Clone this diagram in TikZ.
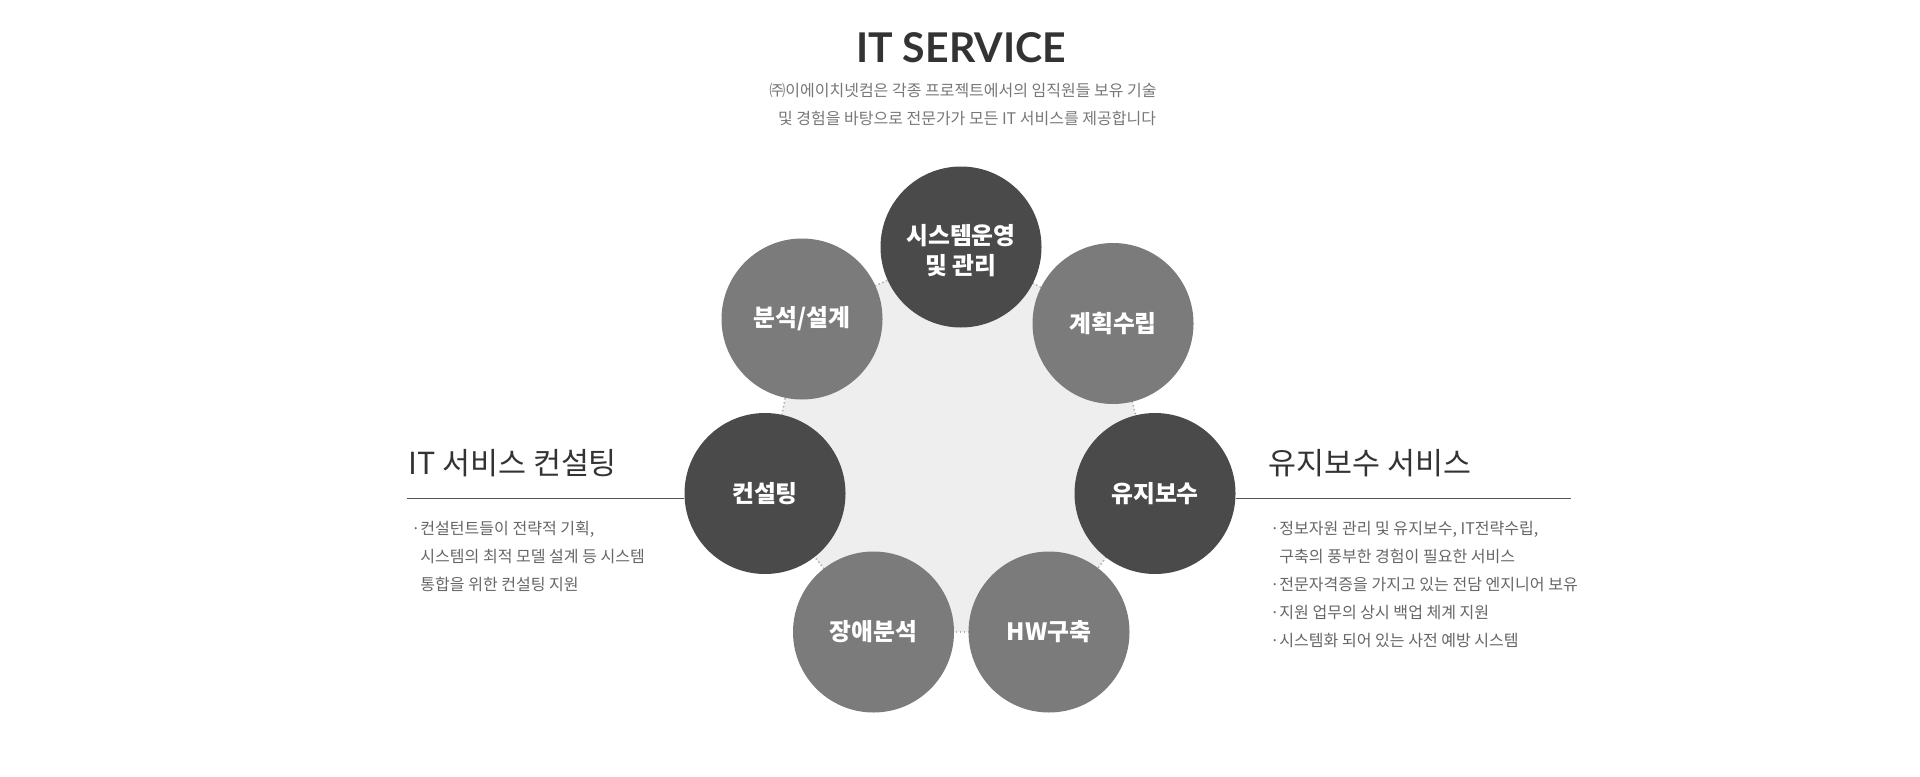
\documentclass[tikz,border=0pt]{standalone}
\usepackage{fontspec}
\setmainfont{Noto Sans CJK KR}
\newfontfamily\latofont{Lato}
\usetikzlibrary{backgrounds}
\definecolor{darkc}{HTML}{4A4A4A}
\definecolor{lightc}{HTML}{7B7B7B}
\definecolor{bgc}{HTML}{EEEEEE}
\definecolor{dotc}{HTML}{B0B0B0}
\definecolor{titlec}{HTML}{333333}
\definecolor{subc}{HTML}{777777}
\definecolor{headc}{HTML}{333333}
\definecolor{bodyc}{HTML}{666666}
\definecolor{rulec}{HTML}{555555}
\begin{document}
\begin{tikzpicture}[x=0.5pt,y=-0.5pt,
  bubble/.style={circle, minimum size=80.5pt, inner sep=0pt, text=white, align=center,
     font=\bfseries\fontsize{11.9}{15}\selectfont},
  darkbubble/.style={bubble, fill=darkc},
  lightbubble/.style={bubble, fill=lightc},
  bubbletext/.style={inner sep=0pt, text=white, align=center, font=\bfseries\fontsize{11.9}{15}\selectfont},
  subtxt/.style={anchor=base, inner sep=0pt, text=subc, font=\fontsize{8}{10}\selectfont},
  headtxt/.style={anchor=base west, inner sep=0pt, text=headc, font=\fontsize{15.2}{18}\selectfont},
  bodytxt/.style={anchor=base west, inner sep=0pt, text=bodyc, font=\fontsize{8.02}{11}\selectfont},
  rule/.style={draw=rulec, line width=0.5pt},
  edge/.style={draw=dotc, line width=0.75pt, dash pattern=on 0.75pt off 1.25pt}]
\useasboundingbox (0,0) rectangle (1920,776);

% title
\node[anchor=base, inner sep=0pt, text=titlec, font=\latofont\bfseries\fontsize{20.5}{26}\selectfont] (title) at (961,62) {IT SERVICE};
\node[subtxt] (sub1) at (963,96.5) {㈜이에이치넷컴은 각종 프로젝트에서의 임직원들 보유 기술};
\node[subtxt] (sub2) at (967,124.5) {및 경험을 바탕으로 전문가가 모든 IT 서비스를 제공합니다};

% circles
\node[darkbubble] (sys) at (961,247) {};
\node[bubbletext] (systext) at ([yshift=-2pt]sys.center) {시스템운영\\및 관리};
\node[lightbubble] (plan) at (1113,323.5) {계획수립};
\node[darkbubble] (maint) at (1155,493.5) {유지보수};
\node[lightbubble] (hw) at (1049,632) {HW구축};
\node[lightbubble] (fault) at (873.5,632) {장애분석};
\node[darkbubble] (cons) at (765,493.5) {컨설팅};
\node[lightbubble] (design) at (802,319) {분석/설계};

\begin{scope}[on background layer]
  \fill[bgc] (sys.center) -- (plan.center) -- (maint.center) -- (hw.center) -- (fault.center) -- (cons.center) -- (design.center) -- cycle;
  \draw[edge] (sys.center) -- (plan.center);
  \draw[edge] (plan.center) -- (maint.center);
  \draw[edge] (maint.center) -- (hw.center);
  \draw[edge] (hw.center) -- (fault.center);
  \draw[edge] (fault.center) -- (cons.center);
  \draw[edge] (cons.center) -- (design.center);
  \draw[edge] (design.center) -- (sys.center);
\end{scope}

% left block
\node[headtxt] (lhead) at (408,474) {IT 서비스 컨설팅};
\coordinate (lstart) at (407,498);
\draw[rule] (lstart) -- (lstart -| cons.west);
\node[bodytxt] (lb1) at (411,534) {·};
\node[bodytxt] (lt1) at (420,534) {컨설턴트들이 전략적 기획,};
\node[bodytxt] (lt2) at (420,562) {시스템의 최적 모델 설계 등 시스템};
\node[bodytxt] (lt3) at (420,590) {통합을 위한 컨설팅 지원};

% right block
\node[headtxt] (rhead) at (1268,474) {유지보수 서비스};
\coordinate (rend) at (1571,498);
\draw[rule] (rend -| maint.east) -- (rend);
\node[bodytxt] (rb1) at (1270,534) {·};
\node[bodytxt] (rt1) at (1279,534) {정보자원 관리 및 유지보수, IT전략수립,};
\node[bodytxt] (rt2) at (1279,562) {구축의 풍부한 경험이 필요한 서비스};
\node[bodytxt] (rb3) at (1270,590) {·};
\node[bodytxt] (rt3) at (1279,590) {전문자격증을 가지고 있는 전담 엔지니어 보유};
\node[bodytxt] (rb4) at (1270,618) {·};
\node[bodytxt] (rt4) at (1279,618) {지원 업무의 상시 백업 체계 지원};
\node[bodytxt] (rb5) at (1270,646) {·};
\node[bodytxt] (rt5) at (1279,646) {시스템화 되어 있는 사전 예방 시스템};
\end{tikzpicture}
\end{document}
